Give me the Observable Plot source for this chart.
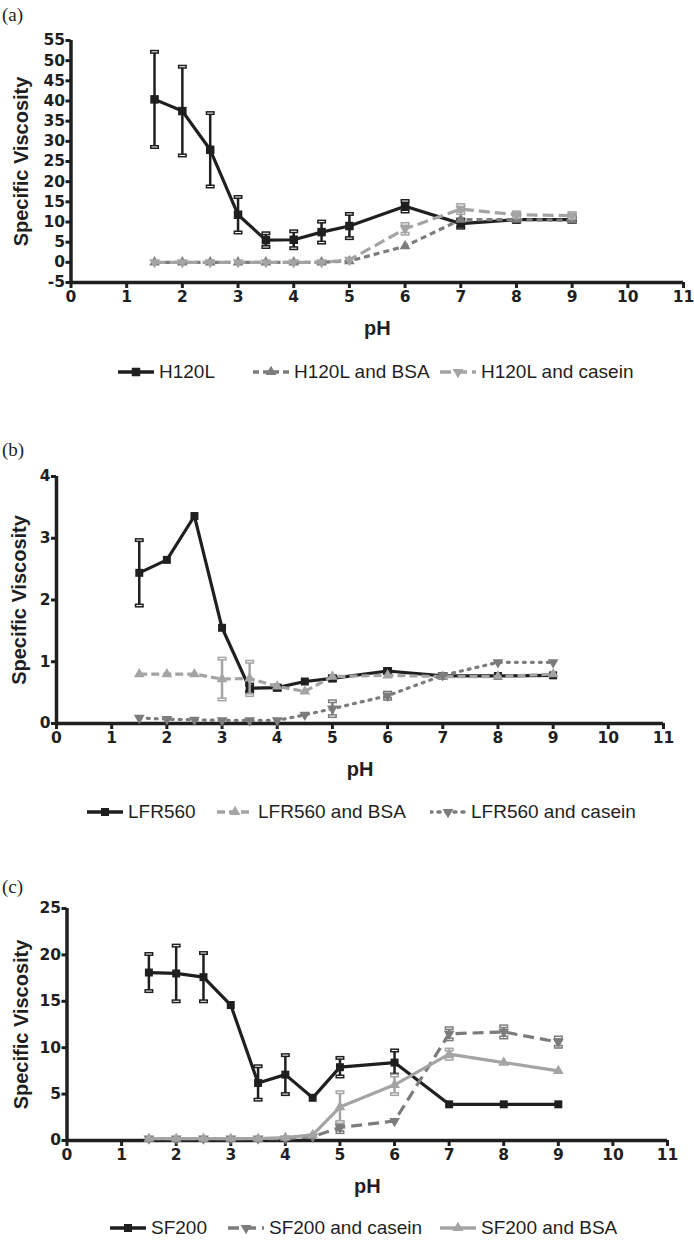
<!DOCTYPE html>
<html><head><meta charset="utf-8">
<script src="https://cdn.jsdelivr.net/npm/d3@7"></script>
<script src="https://cdn.jsdelivr.net/npm/@observablehq/plot@0.6"></script>
<style>
body{margin:0;background:#fff;}
#root{position:relative;width:694px;height:1243px;overflow:hidden;font-family:"Liberation Sans",Arial,sans-serif;color:#1f1f1f;}
.plabel{position:absolute;left:2px;font-family:"Liberation Serif","Times New Roman",serif;font-size:19px;line-height:19px;}
.svgwrap{position:absolute;left:0;}
.item{position:absolute;display:flex;align-items:center;gap:5px;font-size:19px;line-height:20px;white-space:nowrap;}
</style></head><body><div id="root"></div>
<script>
// ---------- data ----------
const pH = [1.5, 2, 2.5, 3, 3.5, 4, 4.5, 5, 6, 7, 8, 9];
const xTicks = [0, 1, 2, 3, 4, 5, 6, 7, 8, 9, 10, 11];

// panel (a)
const yTicksA = [-5, 0, 5, 10, 15, 20, 25, 30, 35, 40, 45, 50, 55];
const namesA = ["H120L", "H120L and BSA", "H120L and casein"];
const h120l = [40.4, 37.5, 27.9, 11.8, 5.5, 5.6, 7.5, 9.0, 13.9, 9.6, 10.6, 10.6];
const h120lErr = [11.8, 11.0, 9.1, 4.4, 1.7, 2.1, 2.6, 3.0, 1.3, 1.0, 0.5, 0.5];
const h120lBSA = [0, 0, 0, 0, 0, 0, 0, 0.3, 4.0, 10.6, 10.6, 10.4];
const h120lBSAErr = [0, 0, 0, 0, 0, 0, 0, 0, 0, 0, 0, 0];
const h120lCasein = [0, 0, 0, 0, 0, 0, 0, 0.6, 8.3, 13.2, 11.8, 11.6];
const h120lCaseinErr = [0, 0, 0, 0, 0, 0, 0, 0, 1.2, 1.0, 0.6, 0.6];

// panel (b)
const yTicksB = [0, 1, 2, 3, 4];
const namesB = ["LFR560", "LFR560 and BSA", "LFR560 and casein"];
const lfr560 = [2.44, 2.65, 3.36, 1.55, 0.57, 0.58, 0.68, 0.73, 0.85, 0.77, 0.77, 0.78];
const lfr560Err = [0.53, 0, 0, 0, 0.06, 0.03, 0, 0.03, 0.03, 0.03, 0, 0];
const lfr560BSA = [0.80, 0.80, 0.80, 0.72, 0.73, 0.60, 0.52, 0.76, 0.78, 0.76, 0.76, 0.80];
const lfr560BSAErr = [0, 0, 0, 0.33, 0.27, 0, 0, 0, 0, 0, 0, 0];
const lfr560Casein = [0.09, 0.07, 0.06, 0.05, 0.05, 0.05, 0.14, 0.24, 0.45, 0.78, 0.99, 0.99];
const lfr560CaseinErr = [0, 0, 0, 0, 0, 0, 0, 0.12, 0.05, 0, 0, 0];

// panel (c)
const yTicksC = [0, 5, 10, 15, 20, 25];
const namesC = ["SF200", "SF200 and casein", "SF200 and BSA"];
const sf200 = [18.1, 18.0, 17.6, 14.6, 6.2, 7.1, 4.6, 7.9, 8.4, 3.9, 3.9, 3.9];
const sf200Err = [2.0, 3.0, 2.6, 0, 1.8, 2.1, 0, 1.0, 1.3, 0, 0, 0];
const sf200Casein = [0.2, 0.2, 0.2, 0.2, 0.2, 0.2, 0.4, 1.4, 2.1, 11.5, 11.7, 10.6];
const sf200CaseinErr = [0, 0, 0, 0, 0, 0, 0, 0.5, 0, 0.6, 0.6, 0.5];
const sf200BSA = [0.2, 0.2, 0.2, 0.2, 0.2, 0.3, 0.6, 3.6, 6.0, 9.3, 8.4, 7.5];
const sf200BSAErr = [0, 0, 0, 0, 0, 0, 0, 1.6, 1.0, 0.5, 0, 0];

const yTitle = "Specific Viscosity";
const xTitle = "pH";

// ---------- styles ----------
const BLACK = "#1f1f1f", DARK = "#7c7c7c", LIGHT = "#a4a4a4";
const TITLE_FONT = "'Liberation Sans', Arial, sans-serif";
const TICK_FONT = "'DejaVu Sans', 'Liberation Sans', sans-serif";
const cap = {draw(ctx, size) { const w = Math.sqrt(size / Math.PI); ctx.moveTo(-w, 0); ctx.lineTo(w, 0); }};

function rows(vals, errs) { return pH.map((x, i) => ({x, y: vals[i], e: errs[i]})); }

function seriesMarks(s) {
  const data = rows(s.values, s.errors);
  const we = data.filter(d => d.e > 0);
  const capMarks = (acc) => [
    Plot.dot(we, {x: "x", y: acc, symbol: cap, r: 4.5, stroke: s.color, strokeWidth: 4, fill: "none"}),
    Plot.dot(we, {x: "x", y: acc, symbol: cap, r: 3, stroke: "white", strokeWidth: 1, fill: "none"})
  ];
  return [
    Plot.ruleX(we, {x: "x", y1: d => d.y - d.e, y2: d => d.y + d.e, stroke: s.color, strokeWidth: 2.5}),
    ...capMarks(d => d.y + d.e),
    ...capMarks(d => d.y - d.e),
    Plot.line(data, {x: "x", y: "y", stroke: s.color, strokeWidth: 3.2, strokeDasharray: s.dash || null, strokeLinecap: s.linecap || "butt"}),
    Plot.dot(data, {x: "x", y: "y", symbol: s.symbol, r: s.r, fill: s.color, stroke: "none", rotate: s.rotate || 0})
  ];
}

function swatch(s) {
  const svg = d3.create("svg").attr("width", 36).attr("height", 16).style("display", "block");
  svg.append("line").attr("x1", 0).attr("x2", 36).attr("y1", 8).attr("y2", 8)
    .attr("stroke", s.color).attr("stroke-width", 3.5)
    .attr("stroke-dasharray", s.dash || null).attr("stroke-linecap", s.linecap || "butt");
  const type = s.symbol === "square" ? d3.symbolSquare : d3.symbolTriangle;
  svg.append("path").attr("d", d3.symbol(type, Math.PI * s.r * s.r)())
    .attr("transform", `translate(18,8) rotate(${s.rotate || 0})`).attr("fill", s.color);
  return svg.node();
}

const root = document.getElementById("root");

function drawPanel(p) {
  const lab = document.createElement("div");
  lab.className = "plabel"; lab.style.top = p.labelTop + "px"; lab.textContent = p.label;
  root.appendChild(lab);

  const height = p.mt + p.plotH + p.mb;
  const marks = [
    Plot.axisX({ticks: xTicks, tickSize: 6, tickPadding: 2, strokeWidth: 3, label: null, tickFormat: d => String(d)}),
    Plot.axisY({ticks: p.yTicks, tickSize: 5, tickPadding: 1, strokeWidth: 3, label: null, tickFormat: d => String(d)}),
    Plot.ruleY([p.yTicks[0]], {strokeWidth: 3.5, stroke: BLACK}),
    Plot.ruleX([xTicks[0]], {strokeWidth: 3.5, stroke: BLACK}),
    Plot.text([yTitle], {frameAnchor: "left", dx: p.titleDx, rotate: -90, textAnchor: "middle", lineAnchor: "middle", fontSize: 20, fontWeight: "bold", fontFamily: TITLE_FONT, fill: BLACK}),
    Plot.text([xTitle], {frameAnchor: "bottom", dy: 46, textAnchor: "middle", lineAnchor: "middle", fontSize: 20, fontWeight: "bold", fontFamily: TITLE_FONT, fill: BLACK}),
  ];
  for (const s of p.series) marks.push(...seriesMarks(s));
  const chart = Plot.plot({
    width: 694, height,
    marginTop: p.mt, marginBottom: p.mb, marginLeft: p.ml, marginRight: p.mr,
    x: {domain: [xTicks[0], xTicks[xTicks.length - 1]]},
    y: {domain: [p.yTicks[0], p.yTicks[p.yTicks.length - 1]]},
    style: {fontFamily: TICK_FONT, fontSize: "15.5px", fontWeight: "bold", color: BLACK, background: "transparent", overflow: "visible"},
    marks
  });
  const wrap = document.createElement("div");
  wrap.className = "svgwrap"; wrap.style.top = p.svgTop + "px";
  wrap.appendChild(chart);
  root.appendChild(wrap);

  p.series.forEach((s, i) => {
    const it = document.createElement("div");
    it.className = "item";
    it.style.left = p.legendX[i] + "px";
    it.style.top = (p.legendY - 10) + "px";
    it.appendChild(swatch(s));
    const t = document.createElement("span"); t.textContent = s.name;
    it.appendChild(t);
    root.appendChild(it);
  });
}

drawPanel({
  label: "(a)", labelTop: 5, svgTop: 28, mt: 12, plotH: 242, mb: 62, ml: 70.5, mr: 11, titleDx: -49,
  yTicks: yTicksA, legendY: 372, legendX: [118, 253, 440],
  series: [
    {name: namesA[0], values: h120l, errors: h120lErr, color: BLACK, symbol: "square", r: 4.8},
    {name: namesA[1], values: h120lBSA, errors: h120lBSAErr, color: DARK, symbol: "triangle", r: 4, dash: "6,4"},
    {name: namesA[2], values: h120lCasein, errors: h120lCaseinErr, color: LIGHT, symbol: "triangle", r: 4, rotate: 180, dash: "11,5"}
  ]
});

drawPanel({
  label: "(b)", labelTop: 440, svgTop: 464, mt: 12, plotH: 247, mb: 62, ml: 56, mr: 31, titleDx: -37,
  yTicks: yTicksB, legendY: 812, legendX: [87, 217, 430],
  series: [
    {name: namesB[0], values: lfr560, errors: lfr560Err, color: BLACK, symbol: "square", r: 4.5},
    {name: namesB[1], values: lfr560BSA, errors: lfr560BSAErr, color: LIGHT, symbol: "triangle", r: 4, dash: "8,4"},
    {name: namesB[2], values: lfr560Casein, errors: lfr560CaseinErr, color: DARK, symbol: "triangle", r: 4, rotate: 180, dash: "2,6", linecap: "round"}
  ]
});

drawPanel({
  label: "(c)", labelTop: 877, svgTop: 896, mt: 12, plotH: 232, mb: 62, ml: 66.5, mr: 27, titleDx: -45,
  yTicks: yTicksC, legendY: 1228, legendX: [110, 228, 440],
  series: [
    {name: namesC[0], values: sf200, errors: sf200Err, color: BLACK, symbol: "square", r: 4.5},
    {name: namesC[1], values: sf200Casein, errors: sf200CaseinErr, color: DARK, symbol: "triangle", r: 4, rotate: 180, dash: "11,6"},
    {name: namesC[2], values: sf200BSA, errors: sf200BSAErr, color: LIGHT, symbol: "triangle", r: 4}
  ]
});
</script></body></html>
